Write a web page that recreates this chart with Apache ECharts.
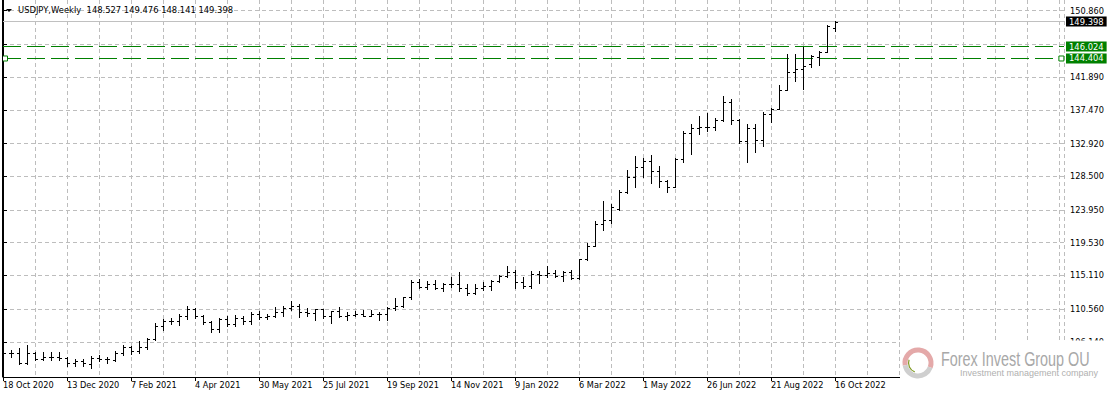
<!DOCTYPE html>
<html>
<head>
<meta charset="utf-8">
<title>USDJPY Weekly</title>
<script src="https://cdn.jsdelivr.net/npm/echarts@6/dist/echarts.min.js"></script>
<style>
  html, body { margin: 0; padding: 0; background: #fff; }
  #chart { width: 1110px; height: 398px; }
</style>
</head>
<body>
<div id="chart"></div>
<script>
// USDJPY weekly bars, first bar is the week of 18 Oct 2020
var symbolName = 'USDJPY,Weekly';

var opens = [
  105.40, 104.70, 104.65, 103.35, 104.65, 103.85, 104.10, 104.15, 104.00, 103.30,
  103.55, 103.15, 103.95, 103.85, 103.75, 104.70, 105.45, 104.95, 105.45, 106.55,
  108.30, 108.95, 108.90, 109.65, 110.60, 109.65, 108.80, 107.90, 109.30, 108.60,
  109.35, 108.95, 109.85, 109.50, 109.65, 110.20, 110.75, 111.05, 110.15, 110.05,
  110.55, 109.70, 110.25, 109.60, 109.80, 109.85, 109.70, 109.90, 109.95, 110.75,
  111.05, 112.20, 114.20, 113.50, 113.95, 113.40, 113.90, 114.00, 113.40, 112.80,
  113.40, 113.70, 114.40, 115.10, 115.55, 114.20, 113.65, 115.25, 115.20, 115.45,
  115.00, 115.55, 114.80, 117.40, 119.10, 122.05, 122.55, 124.05, 126.35, 128.40,
  129.80, 130.55, 129.25, 127.90, 127.10, 130.85, 134.40, 135.00, 135.20, 135.15,
  136.10, 138.55, 136.10, 133.20, 135.00, 133.45, 136.90, 137.60, 140.20, 142.60,
  143.00, 143.60, 144.65, 145.30, 148.527
];
var highs = [
  105.75, 105.05, 105.35, 105.68, 104.75, 104.75, 104.75, 104.75, 104.10, 103.90,
  103.80, 104.20, 104.40, 104.10, 104.95, 105.77, 105.65, 106.20, 106.70, 108.65,
  109.23, 109.36, 109.85, 110.97, 110.70, 109.80, 108.95, 109.40, 109.70, 109.80,
  109.60, 110.20, 110.33, 109.85, 110.82, 110.95, 111.66, 111.20, 110.70, 110.60,
  110.60, 110.35, 110.80, 110.20, 110.25, 110.45, 110.45, 110.15, 110.80, 112.08,
  112.25, 114.47, 114.70, 114.30, 114.45, 114.10, 114.97, 115.52, 113.95, 113.95,
  114.25, 114.45, 115.20, 116.35, 115.85, 114.88, 115.68, 115.68, 116.34, 115.90,
  115.75, 115.80, 117.35, 119.43, 122.44, 125.10, 124.70, 126.70, 129.40, 131.30,
  131.00, 131.35, 129.95, 128.00, 130.95, 134.55, 135.60, 136.70, 137.00, 136.35,
  139.40, 138.90, 136.20, 135.55, 135.55, 137.20, 137.70, 140.80, 144.99, 144.95,
  145.90, 144.90, 145.40, 148.86, 149.476
];
var lows = [
  104.45, 104.10, 103.20, 103.20, 103.65, 103.65, 103.65, 103.70, 102.88, 102.95,
  102.95, 102.59, 103.50, 103.35, 103.60, 104.40, 104.50, 104.60, 105.20, 106.35,
  107.70, 108.60, 108.40, 109.30, 109.40, 108.60, 107.50, 107.50, 108.35, 108.35,
  108.55, 108.60, 109.20, 109.20, 109.45, 109.70, 110.40, 109.50, 109.70, 109.07,
  109.35, 108.72, 109.50, 109.10, 109.60, 109.60, 109.60, 109.10, 109.10, 110.40,
  110.80, 111.90, 113.40, 113.25, 113.25, 113.00, 113.60, 113.05, 112.53, 112.60,
  113.10, 113.20, 114.20, 114.95, 113.48, 113.48, 113.47, 114.15, 114.90, 114.85,
  114.40, 114.65, 114.65, 117.25, 119.10, 121.30, 122.20, 124.00, 126.20, 127.00,
  128.40, 127.55, 127.05, 126.35, 127.00, 130.40, 131.50, 134.27, 134.60, 134.80,
  135.95, 135.55, 133.05, 130.40, 131.75, 132.55, 135.80, 137.55, 140.10, 141.40,
  140.35, 143.25, 143.55, 145.25, 148.141
];
var closes = [
  104.70, 104.65, 103.35, 104.65, 103.85, 104.10, 104.15, 104.00, 103.30, 103.55,
  103.25, 103.95, 103.85, 103.80, 104.70, 105.40, 104.95, 105.45, 106.55, 108.30,
  108.95, 108.90, 109.65, 110.65, 109.65, 108.80, 107.90, 109.30, 108.60, 109.35,
  108.95, 109.85, 109.50, 109.65, 110.20, 110.75, 111.05, 110.15, 110.05, 110.55,
  109.70, 110.25, 109.60, 109.80, 109.85, 109.70, 109.90, 109.95, 110.75, 111.05,
  112.20, 114.20, 113.50, 113.95, 113.40, 113.90, 114.00, 113.40, 112.80, 113.40,
  113.70, 114.40, 115.10, 115.55, 114.20, 113.65, 115.25, 115.20, 115.45, 115.00,
  115.55, 114.80, 117.30, 119.15, 122.05, 122.55, 124.30, 126.35, 128.40, 129.80,
  130.55, 129.25, 127.90, 127.10, 130.85, 134.40, 135.00, 135.20, 135.15, 136.10,
  138.55, 136.10, 133.20, 135.00, 133.45, 136.90, 137.60, 140.20, 142.60, 142.95,
  143.35, 144.70, 145.30, 148.75, 149.398
];

// date labels, one every 8 weekly bars
var dateLabels = [
  '18 Oct 2020', '13 Dec 2020', '7 Feb 2021', '4 Apr 2021', '30 May 2021', '25 Jul 2021',
  '19 Sep 2021', '14 Nov 2021', '9 Jan 2022', '6 Mar 2022', '1 May 2022', '26 Jun 2022',
  '21 Aug 2022', '16 Oct 2022'
];
var labelStep = 8;

// price scale labels (the one under the green tag is not printed)
var priceTicks = [106.14, 110.56, 115.11, 119.53, 123.95, 128.50, 132.92, 137.47, 141.89, 146.375, 150.86];
var hiddenTick = 146.375;

// horizontal levels drawn on the chart
var levels = [146.024, 144.404];
var lastPrice = closes[closes.length - 1];

var gridColor = '#bdbdbd';
var fontFamily = 'DejaVu Sans';

var chart = echarts.init(document.getElementById('chart'), null, { renderer: 'svg' });

var bars = opens.map(function (o, i) {
  return [i, o, highs[i], lows[i], closes[i]];
});
var labelIdx = dateLabels.map(function (d, k) { return k * labelStep; });
var last = bars.length - 1;
var titleText = symbolName + '  ' + [opens[last], highs[last], lows[last], closes[last]]
  .map(function (v) { return v.toFixed(3); }).join(' ');

function renderBar(params, api) {
  var x = Math.round(api.coord([api.value(0), 0])[0]);
  function py(dim) {
    return Math.round(api.coord([0, api.value(dim)])[1]) + 0.5;
  }
  var yO = py(1), yH = py(2), yL = py(3), yC = py(4);
  var st = { stroke: '#000', lineWidth: 1 };
  return {
    type: 'group',
    children: [
      { type: 'line', shape: { x1: x + 0.5, y1: yH - 0.5, x2: x + 0.5, y2: yL + 0.5 }, style: st },
      { type: 'line', shape: { x1: x - 2, y1: yO, x2: x + 1, y2: yO }, style: st },
      { type: 'line', shape: { x1: x, y1: yC, x2: x + 3, y2: yC }, style: st }
    ]
  };
}

var tagLabel = {
  show: true,
  position: 'end',
  distance: 2,
  color: '#fff',
  fontFamily: fontFamily,
  fontSize: 8.4,
  lineHeight: 9,
  padding: [1, 3, 0, 3],
  formatter: function (p) { return Number(p.value).toFixed(3); }
};

var option = {
  animation: false,
  backgroundColor: '#fff',
  textStyle: { fontFamily: fontFamily },
  title: {
    text: titleText,
    left: 18,
    top: 6,
    padding: 0,
    textStyle: { fontFamily: fontFamily, fontSize: 8.4, fontWeight: 'normal', color: '#000' }
  },
  grid: { left: 3, right: 46, top: 0, bottom: 21 },
  xAxis: [{
    type: 'value',
    min: 0,
    max: 132.625,
    interval: 4,
    axisLine: { show: true, lineStyle: { color: '#000', width: 1 } },
    axisTick: { show: false },
    axisLabel: {
      customValues: labelIdx,
      align: 'left',
      margin: 4,
      color: '#000',
      fontFamily: fontFamily,
      fontSize: 8.2,
      formatter: function (v) { return dateLabels[Math.round(v / labelStep)] || ''; }
    },
    splitLine: { show: true, lineStyle: { color: gridColor, type: [4, 3], width: 1 } }
  }, {
    type: 'value',
    min: 0,
    max: 132.625,
    position: 'bottom',
    axisLine: { show: false },
    axisLabel: { show: false },
    splitLine: { show: false },
    axisTick: { show: true, customValues: labelIdx, length: 4, lineStyle: { color: '#000' } }
  }],
  yAxis: [{
    type: 'value',
    position: 'right',
    min: 101.403,
    max: 152.302,
    axisLine: { show: true, lineStyle: { color: '#000', width: 1 } },
    axisTick: { show: true, customValues: priceTicks, length: 4, lineStyle: { color: '#000' } },
    axisLabel: {
      customValues: priceTicks,
      margin: 6,
      color: '#000',
      fontFamily: fontFamily,
      fontSize: 8.2,
      formatter: function (v) { return v === hiddenTick ? '' : v.toFixed(3); }
    },
    splitLine: { show: true, lineStyle: { color: gridColor, type: [4, 3], width: 1 } }
  }],
  series: [{
    name: 'levels',
    type: 'line',
    data: [],
    z: 1,
    silent: true,
    markLine: {
      silent: true,
      precision: 3,
      symbol: ['none', 'none'],
      label: tagLabel,
      data: [
        { yAxis: lastPrice, lineStyle: { color: '#c0c0c0', type: 'solid', width: 1 },
          label: { backgroundColor: '#000' } },
        { yAxis: levels[0], lineStyle: { color: '#008000', type: [18, 6], width: 1 },
          label: { backgroundColor: '#008000' } },
        { yAxis: levels[1], lineStyle: { color: '#008000', type: [18, 6], width: 1 },
          label: { backgroundColor: '#008000' } }
      ]
    },
    markPoint: {
      silent: true,
      symbol: 'rect',
      symbolSize: 5,
      label: { show: false },
      itemStyle: { color: '#fff', borderColor: '#008000', borderWidth: 1 },
      data: [
        { coord: [0.25, levels[1]] },
        { coord: [132.3, levels[1]] }
      ]
    }
  }, {
    name: 'USDJPY',
    type: 'custom',
    z: 10,
    clip: true,
    renderItem: renderBar,
    encode: { x: 0, y: [1, 2, 3, 4] },
    data: bars
  }],
  graphic: [
    // chart frame on the left and the caption arrow
    { type: 'line', shape: { x1: 2.5, y1: 0, x2: 2.5, y2: 377 }, style: { stroke: '#000', lineWidth: 1 }, z: 50 },
    { type: 'polygon', shape: { points: [[6, 9], [12, 9], [9, 12]] }, style: { fill: '#000' }, z: 50 },
    // watermark block
    { type: 'rect', shape: { x: 900, y: 340.5, width: 210, height: 58 }, style: { fill: '#fff' }, z: 100 },
    { type: 'arc', shape: { cx: 918, cy: 363, r: 13, startAngle: 170 * Math.PI / 180, endAngle: 380 * Math.PI / 180, clockwise: true },
      style: { stroke: '#e4a9a9', lineWidth: 5, fill: null }, z: 101 },
    { type: 'arc', shape: { cx: 918, cy: 363, r: 13, startAngle: 20 * Math.PI / 180, endAngle: 170 * Math.PI / 180, clockwise: true },
      style: { stroke: '#cfcfcf', lineWidth: 5, fill: null }, z: 101 },
    { type: 'arc', shape: { cx: 918, cy: 363, r: 9.5, startAngle: 110 * Math.PI / 180, endAngle: 200 * Math.PI / 180, clockwise: true },
      style: { stroke: '#7f9a22', lineWidth: 1.2, fill: null }, z: 102 },
    { type: 'text', x: 941, y: 359.5, scaleX: 0.72, z: 101,
      style: { text: 'Forex Invest Group OU', fill: '#a8a8a8', font: '20px "Liberation Sans"', verticalAlign: 'middle' } },
    { type: 'text', x: 960, y: 372.5, z: 101,
      style: { text: 'Investment management company', fill: '#b0b0b0', font: '9px "Liberation Sans"', verticalAlign: 'middle' } }
  ]
};

chart.setOption(option);
</script>
</body>
</html>
